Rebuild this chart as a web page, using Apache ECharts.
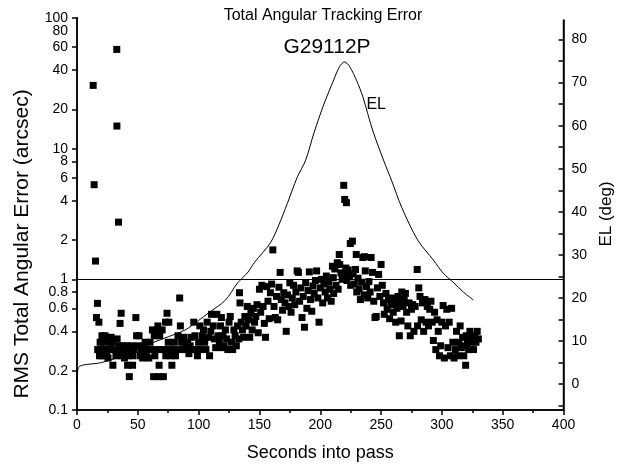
<!DOCTYPE html>
<html>
<head>
<meta charset="utf-8">
<script src="https://cdn.jsdelivr.net/npm/echarts@6/dist/echarts.min.js"></script>
<style>html,body{margin:0;padding:0;background:#fff}#c{width:623px;height:470px}</style>
</head>
<body>
<div id="c"></div>
<script>
// ---- data ----
var titleText = 'Total Angular Tracking Error';
var subTitleText = 'G29112P';
var yNameLeft = 'RMS Total Angular Error (arcsec)';
var errTicks = [0.1, 0.2, 0.4, 0.6, 0.8, 1, 2, 4, 6, 8, 10, 20, 40, 60, 80, 100];
var errLabelsExtra = [80];
var elLabels = [0, 10, 20, 30, 40, 50, 60, 70, 80];
var elTickMarks = [-5, 0, 5, 10, 15, 20, 25, 30, 35, 40, 45, 50, 55, 60, 65, 70, 75, 80, 85];
var thresholdLine = 1;

// elevation curve: [seconds, deg]
var elCurve = [
  [0,-1],[1,3.8],[20,5.0],[35,6.3],[50,8.0],[62,9.6],[75,11.0],[89,12.6],[100,14.8],[108,16.5],
  [122,19.5],[132,23.5],[140,25.8],[146,28.3],[159,32.8],[166,37],[173,42],[181,48],[188,52],
  [195,58.5],[203,65],[211,70.6],[216,73.8],[220,74.8],[224,73.8],[230,70.4],[235,66.7],[243,59],
  [252,52],[259,47],[267,41],[280,33.5],[293,28.8],[301,25.8],[309,23.7],[318,21.3],[326,19.5]
];

// RMS total angular error: [seconds, arcsec]
var errPoints = [
  [13.3,30.5],[14.1,5.3],[15.2,1.38],[16,0.51],[16.8,0.655],[18,0.47],[17,0.29],[18.5,0.26],[19,0.33],[20,0.29],
  [20.5,0.37],[21,0.26],[22,0.33],[22.5,0.29],[23,0.37],[24,0.36],[24.5,0.26],[25,0.29],[25.5,0.25],[26,0.33],
  [27,0.29],[28,0.36],[28.5,0.33],[29.5,0.22],[30,0.33],[31,0.29],[32,0.26],[32.7,57.5],[32.8,14.9],[33,0.35],
  [34.1,2.74],[35.4,0.46],[36.3,0.55],[35,0.31],[36,0.29],[37,0.26],[38,0.31],[39,0.25],[40,0.29],[41,0.31],
  [41.6,0.22],[42,0.26],[43,0.18],[44,0.29],[45,0.31],[45.7,0.22],[46,0.26],[47,0.29],[48.4,0.51],[49,0.37],
  [50,0.31],[51,0.37],[52,0.26],[53,0.29],[54,0.25],[55,0.31],[56,0.33],[57,0.26],[58,0.29],[59,0.25],
  [60,0.33],[61,0.29],[62,0.41],[63,0.18],[63.5,0.37],[64,0.26],[65,0.29],[66,0.41],[66.5,0.44],[67.3,0.18],
  [67.5,0.22],[68,0.37],[69,0.29],[70,0.41],[71,0.18],[71.5,0.29],[72.8,0.47],[73,0.26],[74,0.55],[75,0.33],
  [75.5,0.47],[76,0.29],[77,0.26],[78,0.22],[79,0.29],[80,0.33],[81,0.26],[82,0.29],[83,0.37],[84.4,0.72],
  [85,0.44],[86,0.33],[87,0.29],[88,0.36],[89,0.31],[90,0.29],[91,0.33],[92,0.27],[93,0.31],[94,0.36],
  [95,0.29],[96,0.47],[97,0.37],[98,0.29],[99,0.26],[100,0.33],[101,0.44],[102,0.29],[103,0.37],[104,0.41],
  [105,0.33],[106,0.29],[107,0.47],[108,0.36],[109,0.26],[110,0.4],[110.6,0.54],[112,0.44],[113,0.35],[114,0.3],
  [115,0.54],[116,0.37],[117,0.33],[118,0.44],[118.7,0.51],[119,0.3],[120,0.37],[121,0.31],[122,0.41],[123,0.35],
  [124,0.29],[125,0.47],[126,0.52],[127,0.33],[128,0.29],[129,0.41],[130,0.37],[131,0.31],[132,0.44],[133,0.35],
  [133.6,0.79],[134,0.66],[135,0.47],[136,0.41],[137,0.36],[138,0.52],[139,0.44],[140,0.62],[141,0.49],[142,0.36],
  [143,0.55],[144,0.41],[145,0.6],[146,0.47],[147,0.52],[148,0.64],[149,0.39],[150,0.84],[151,0.56],[152,0.9],
  [153,0.62],[154,0.46],[155,0.36],[156,0.88],[157,0.68],[158,0.5],[159,0.79],[160,0.92],[161,1.68],[162,0.62],
  [163,0.51],[164,0.74],[165,0.49],[166,0.87],[167,1.13],[168,0.7],[169,0.58],[170,0.79],[171,0.66],[172,0.4],
  [173,0.76],[174,0.62],[175,0.94],[176,0.56],[177,0.72],[178,0.9],[179,0.64],[180,0.8],[181,1.16],[182,1.13],
  [183,0.68],[184,0.86],[185,0.51],[186,0.74],[187,0.43],[188,0.94],[189,0.6],[190,0.82],[191,1.14],[192,0.7],
  [193,0.57],[194,0.89],[195,0.78],[196,0.98],[197,1.16],[198,0.72],[199,0.47],[200,0.86],[201,1.0],[202,0.66],
  [203,0.92],[204,0.8],[205,1.06],[206,0.72],[207,0.95],[208,0.84],[209,0.68],[210,1.26],[210.7,1.03],[211,0.78],
  [212,1.2],[213,0.9],[214,1.34],[214.7,0.84],[215.6,1.55],[216,1.3],[217,1.12],[218,1.0],[219.3,5.24],[220,1.09],
  [220.1,4.09],[221,1.22],[221.5,3.86],[222,0.98],[223,1.18],[224,1.06],[224.7,1.88],[225,0.9],[226.4,1.96],[227,1.1],
  [228,0.92],[229,1.19],[229.6,1.55],[230,0.8],[231,1.02],[232,0.84],[233,0.7],[234,0.95],[235,1.47],[236,0.76],
  [236.4,1.49],[237,1.16],[238,0.88],[239,0.72],[240,0.96],[241,0.8],[241.8,1.47],[243,1.13],[244,0.68],[245,0.51],
  [246,0.52],[247,0.86],[248,1.09],[249,0.74],[250,1.3],[251,0.9],[252,0.66],[252.6,0.54],[254,0.78],[255,0.59],
  [256,0.7],[257,0.5],[258,0.64],[259,0.72],[260,0.56],[261,0.66],[262,0.47],[263,0.6],[264,0.74],[265,0.37],
  [266,0.66],[266.5,0.48],[267,0.8],[268,0.62],[269,0.7],[270,0.78],[271,0.56],[272,0.44],[273,0.66],[274,0.37],
  [275,0.59],[276,0.64],[277,0.4],[278,0.62],[279.7,1.19],[280,0.44],[281,0.86],[282,0.74],[283,0.49],[284,0.66],
  [285,0.4],[286,0.7],[287,0.47],[288,0.62],[289,0.44],[290,0.59],[291,0.68],[292,0.47],[293,0.34],[294,0.56],
  [295,0.29],[296,0.49],[297,0.4],[298,0.26],[299,0.31],[300,0.47],[301,0.63],[302,0.25],[303,0.44],[304,0.59],
  [305,0.3],[306,0.47],[307,0.26],[308,0.6],[309,0.33],[310,0.25],[311,0.29],[312,0.4],[313,0.26],[314,0.33],
  [315,0.44],[316,0.3],[317,0.36],[318,0.26],[319,0.31],[319.5,0.22],[320,0.37],[321,0.33],[322,0.29],[323,0.4],
  [324,0.33],[325,0.36],[326,0.29],[327,0.37],[328,0.33],[329,0.4],[330,0.35]
];

var elNote = {text: 'EL', at: [246, 64.8]};

// ---- chart ----
var FONT = '"Liberation Sans", Arial, sans-serif';
var chart = echarts.init(document.getElementById('c'), null, {renderer: 'canvas'});
chart.setOption({
  animation: false,
  backgroundColor: '#fff',
  textStyle: {fontFamily: FONT, color: '#000'},
  graphic: [
    {type: 'line', z: 90, shape: {x1: 78, y1: 18, x2: 568, y2: 18}, style: {stroke: '#fff', lineWidth: 3}},
    {type: 'text', x: 323, y: 16, z: 100,
     style: {text: titleText, font: '16px "Liberation Sans", Arial, sans-serif', fill: '#000', align: 'center', verticalAlign: 'middle'}},
    {type: 'text', x: 327, y: 47, z: 100,
     style: {text: subTitleText, font: '21px "Liberation Sans", Arial, sans-serif', fill: '#000', align: 'center', verticalAlign: 'middle'}},
    {type: 'text', x: 22, y: 244, rotation: Math.PI / 2, z: 100,
     style: {text: yNameLeft, font: '21px "Liberation Sans", Arial, sans-serif', fill: '#000', align: 'center', verticalAlign: 'middle'}}
  ],
  grid: {left: 77, right: 53, top: 18, bottom: 60, show: true, borderColor: '#000', borderWidth: 1.5, backgroundColor: 'rgba(0,0,0,0)'},
  xAxis: {
    type: 'value', min: 0, max: 400, interval: 50,
    name: 'Seconds into pass', nameLocation: 'middle', nameGap: 34,
    nameTextStyle: {fontFamily: FONT, fontSize: 18, color: '#000'},
    axisLine: {show: true, onZero: false, lineStyle: {color: '#000', width: 1.5}},
    axisTick: {show: true, length: 5, lineStyle: {color: '#000', width: 1.5}},
    minorTick: {show: true, splitNumber: 2, length: 3, lineStyle: {color: '#000', width: 1.5}},
    axisLabel: {fontFamily: FONT, fontSize: 14, color: '#000', margin: 8},
    splitLine: {show: false}
  },
  yAxis: [
    {
      type: 'log', logBase: 10, min: 0.1, max: 100, position: 'left',
      axisLine: {show: true, onZero: false, lineStyle: {color: '#000', width: 1.5}},
      axisTick: {show: true, length: 5, customValues: errTicks, lineStyle: {color: '#000', width: 1.5}},
      axisLabel: {fontFamily: FONT, fontSize: 14, lineHeight: 11, color: '#000', margin: 9, customValues: errTicks,
        showMaxLabel: true, showMinLabel: true, hideOverlap: false},
      splitLine: {show: false}
    },
    {
      type: 'value', min: -6, max: 85, position: 'right',
      name: 'EL (deg)', nameLocation: 'middle', nameGap: 29, nameRotate: 90,
      nameTextStyle: {fontFamily: FONT, fontSize: 17, color: '#000'},
      axisLine: {show: true, onZero: false, lineStyle: {color: '#000', width: 1.5}},
      axisTick: {show: true, inside: true, length: 5, customValues: elTickMarks, lineStyle: {color: '#000', width: 1.5}},
      axisLabel: {fontFamily: FONT, fontSize: 14, color: '#000', margin: 8, customValues: elLabels},
      splitLine: {show: false}
    },
    {
      type: 'log', logBase: 10, min: 0.1, max: 100, position: 'left', offset: 0,
      axisLine: {show: false, onZero: false},
      axisTick: {show: false},
      axisLabel: {fontFamily: FONT, fontSize: 14, lineHeight: 11, color: '#000', margin: 9, customValues: errLabelsExtra,
        showMaxLabel: true, showMinLabel: true, hideOverlap: false},
      splitLine: {show: false}
    }
  ],
  series: [
    {
      type: 'scatter', yAxisIndex: 0, data: errPoints,
      symbol: 'rect', symbolSize: 7, itemStyle: {color: '#000', opacity: 1},
      markLine: {
        silent: true, symbol: 'none', label: {show: false},
        lineStyle: {color: '#000', width: 1, type: 'solid'},
        data: [{yAxis: thresholdLine}]
      }
    },
    {
      type: 'line', yAxisIndex: 1, data: elCurve, smooth: 0.3,
      showSymbol: false, lineStyle: {color: '#000', width: 1},
      markPoint: {
        symbol: 'rect', symbolSize: 1, itemStyle: {color: 'rgba(0,0,0,0)'},
        label: {show: true, position: 'inside', formatter: elNote.text, fontSize: 16, color: '#000'},
        data: [{coord: elNote.at}]
      }
    }
  ]
});
</script>
</body>
</html>
